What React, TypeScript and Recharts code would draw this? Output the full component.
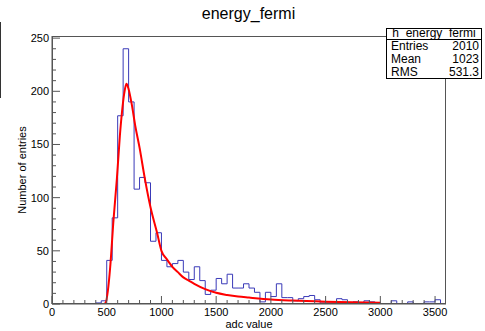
import React from "react"
import { ComposedChart, Line, XAxis, YAxis } from "recharts"

// histogram h_energy_fermi: 50-wide bins starting at 0
const BIN_WIDTH = 50
const counts = [
  0, 0, 0, 0, 0, 0, 0, 0,
  1, 3, 41, 81, 177, 240, 190, 108, 119, 114, 59, 67,
  41, 35, 38, 41, 30, 23, 35, 22, 9, 13, 24, 19, 28, 15, 15, 19, 15, 11, 2, 11,
  7, 19, 6, 6, 3, 5, 7, 8, 4, 1, 1, 1, 5, 4, 1, 2, 1, 3, 2, 1,
  0, 0, 3, 0, 0, 2, 0, 0, 2, 2, 4, 0,
]

// fit curve
const fitX = [0, 400, 470, 490, 510, 532, 562, 593, 620, 640, 660, 680, 700, 730, 760, 800, 850, 900, 960, 1000, 1050, 1100, 1150, 1200, 1250, 1300, 1400, 1500, 1600, 1700, 1800, 2000, 2200, 2500, 2750, 3000]
const fitY = [0, 0, 0, 1, 12, 35, 79, 118, 158, 181, 198, 207, 202, 187, 168, 147, 117, 91, 67, 50, 42, 35, 30, 25, 22, 19, 14, 10.5, 8.5, 7, 6, 4.2, 3.2, 2.2, 1.6, 1.2]

const xTicks = [0, 100, 200, 300, 400, 500, 600, 700, 800, 900, 1000, 1100, 1200, 1300, 1400, 1500, 1600, 1700, 1800, 1900, 2000, 2100, 2200, 2300, 2400, 2500, 2600, 2700, 2800, 2900, 3000, 3100, 3200, 3300, 3400, 3500]
const yTicks = [0, 10, 20, 30, 40, 50, 60, 70, 80, 90, 100, 110, 120, 130, 140, 150, 160, 170, 180, 190, 200, 210, 220, 230, 240, 250]

const stats = [
  { label: "Entries", value: "2010" },
  { label: "Mean", value: "1023" },
  { label: "RMS", value: "531.3" },
]

const histData = counts.map((c, i) => ({ x: i * BIN_WIDTH, y: c }))
histData.push({ x: counts.length * BIN_WIDTH, y: counts[counts.length - 1] })
const fitData = fitX.map((x, i) => ({ x, y: fitY[i] }))

const FONT = "'Liberation Sans', Arial, Helvetica, sans-serif"
const AXIS = "#555"

function XTick(props: any) {
  const { x, y, payload } = props
  const major = payload.value % 500 === 0
  return (
    <g>
      <line x1={x} x2={x} y1={y} y2={y - (major ? 8 : 4)} stroke={AXIS} />
      {major && (
        <text x={x} y={y + 12} textAnchor="middle" fontSize={11} fontFamily={FONT} fill="#000">
          {payload.value}
        </text>
      )}
    </g>
  )
}

function YTick(props: any) {
  const { x, y, payload } = props
  const major = payload.value % 50 === 0
  return (
    <g>
      <line x1={x} x2={x + (major ? 8 : 4)} y1={y} y2={y} stroke={AXIS} />
      {major && (
        <text x={x - 3} y={y + 4} textAnchor="end" fontSize={11} fontFamily={FONT} fill="#000">
          {payload.value}
        </text>
      )}
    </g>
  )
}

export default function App() {
  return (
    <div style={{ position: "absolute", left: 0, top: 0, width: 485, height: 331, background: "#fff", fontFamily: FONT }}>
      <div style={{ position: "absolute", left: 0, top: 22, width: 1, height: 76, background: "#333" }} />
      <div style={{ position: "absolute", left: 0, top: 5, width: 485, textAlign: "center", fontSize: 16, paddingLeft: 12, boxSizing: "border-box" }}>
        energy_fermi
      </div>
      <ComposedChart width={485} height={331} margin={{ top: 36, right: 39, bottom: 0, left: 12 }}>
        <XAxis
          dataKey="x"
          type="number"
          domain={[0, 3600]}
          ticks={xTicks}
          interval={0}
          height={27}
          tickSize={0}
          tickMargin={0}
          tickLine={false}
          tick={<XTick />}
          stroke={AXIS}
          allowDataOverflow
          label={{ value: "adc value", position: "insideBottom", offset: 3, fontSize: 11, fill: "#000", fontFamily: FONT }}
        />
        <YAxis
          type="number"
          domain={[0, 252]}
          ticks={yTicks}
          interval={0}
          width={40}
          tickSize={0}
          tickMargin={0}
          tickLine={false}
          tick={<YTick />}
          stroke={AXIS}
          allowDataOverflow
          label={{ value: "Number of entries", angle: -90, position: "insideLeft", offset: 10, fontSize: 11, fill: "#000", fontFamily: FONT, style: { textAnchor: "middle" } }}
        />
        <Line data={histData} dataKey="y" type="stepAfter" stroke="#3a3ab8" strokeWidth={1} dot={false} isAnimationActive={false} />
        <Line data={fitData} dataKey="y" type="monotone" stroke="#ff0000" strokeWidth={2} dot={false} isAnimationActive={false} />
      </ComposedChart>
      <div style={{ position: "absolute", left: 52, top: 36, width: 394, height: 268, border: `1px solid ${AXIS}`, boxSizing: "border-box", pointerEvents: "none" }} />
      <div style={{ position: "absolute", left: 386, top: 28, width: 96, height: 51, border: "1px solid #000", boxSizing: "border-box", background: "#fff", fontSize: 12, lineHeight: "11px" }}>
        <div style={{ position: "absolute", left: 0, right: 0, top: -1, textAlign: "center" }}>h_energy_fermi</div>
        <div style={{ position: "absolute", left: 0, right: 0, top: 10, height: 0, borderTop: "1px solid #000" }} />
        {stats.map((s, i) => (
          <div
            key={s.label}
            style={{ position: "absolute", left: 4, right: 2, top: 12 + i * 13, display: "flex", justifyContent: "space-between" }}
          >
            <span>{s.label}</span>
            <span>{s.value}</span>
          </div>
        ))}
      </div>
    </div>
  )
}
